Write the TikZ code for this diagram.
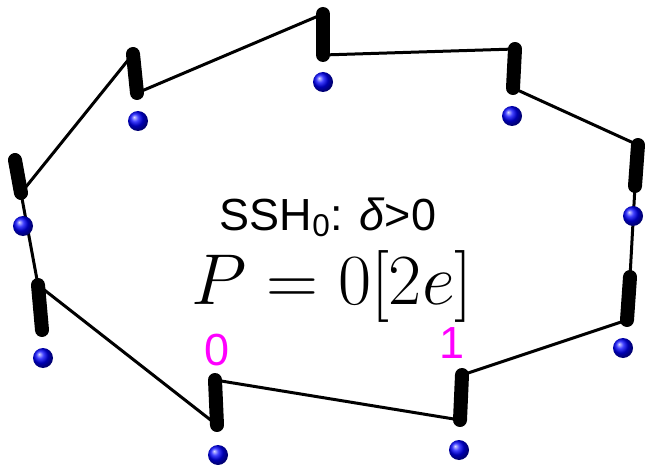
\documentclass[tikz,border=0pt]{standalone}
\usepackage{fix-cm}
\usepackage{fontspec}
\setsansfont{Liberation Sans}
\definecolor{cellpink}{RGB}{255,0,255}
\tikzset{
  bond/.style={line width=14pt, line cap=round},
  hop/.style={line width=3pt, line cap=round, line join=round},
  site/.style={circle, inner sep=0pt, minimum size=20pt, ball color=blue},
  cell/.style={text=cellpink, font=\sffamily\fontsize{45}{45}\selectfont, anchor=base},
}

\begin{document}
\begin{tikzpicture}[x=1pt, y=-1pt]
\useasboundingbox (0,0) rectangle (645,465);

% bond ends (top t, bottom b) of the nine cells
\coordinate (at) at (15,160); \coordinate (ab) at (21,193);
\coordinate (bt) at (133,54); \coordinate (bb) at (137,93);
\coordinate (ct) at (323,14); \coordinate (cb) at (323,55);
\coordinate (dt) at (515,49); \coordinate (db) at (513,88);
\coordinate (et) at (638,145); \coordinate (eb) at (635,186);
\coordinate (ft) at (630,277); \coordinate (fb) at (627,320);
\coordinate (ht) at (462,375); \coordinate (hb) at (460,420);
\coordinate (it) at (215,380); \coordinate (ib) at (217,425);
\coordinate (jt) at (38,285); \coordinate (jb) at (42,330);

% weak bonds between cells
\draw[hop] (jt) -- (ab) -- (bt);
\draw[hop] (bb) -- (ct);
\draw[hop] (cb) -- (dt);
\draw[hop] (db) -- (et);
\draw[hop] (eb) -- (ft);
\draw[hop] (fb) -- (ht);
\draw[hop] (hb) -- (it);
\draw[hop] (ib) -- (jt);

% strong bonds
\draw[bond] (at) -- (ab);
\draw[bond] (bt) -- (bb);
\draw[bond] (ct) -- (cb);
\draw[bond] (dt) -- (db);
\draw[bond] (et) -- (eb);
\draw[bond] (ft) -- (fb);
\draw[bond] (ht) -- (hb);
\draw[bond] (it) -- (ib);
\draw[bond] (jt) -- (jb);

% sites
\node[site] (sa) at (23,226) {};
\node[site] (sb) at (138,121) {};
\node[site] (sc) at (323,82) {};
\node[site] (sd) at (512,116) {};
\node[site] (se) at (633,216) {};
\node[site] (sf) at (623,348) {};
\node[site] (sh) at (459,450) {};
\node[site] (si) at (218,455) {};
\node[site] (sj) at (43,358) {};

% cell labels
\node[cell] (l0) at (217,365) {0};
\node[cell] (l1) at (452,358) {1};

% model and polarization
\node[anchor=base, inner sep=0pt, font=\sffamily\fontsize{45}{45}\selectfont] (model) at (328,230)
{SSH\textsubscript{0}: \textit{δ}>0};
\node[anchor=base, inner sep=0pt, font=\fontsize{72}{72}\selectfont] (pol) at (332,304) {$P=0[2e]$};

\end{tikzpicture}
\end{document}
